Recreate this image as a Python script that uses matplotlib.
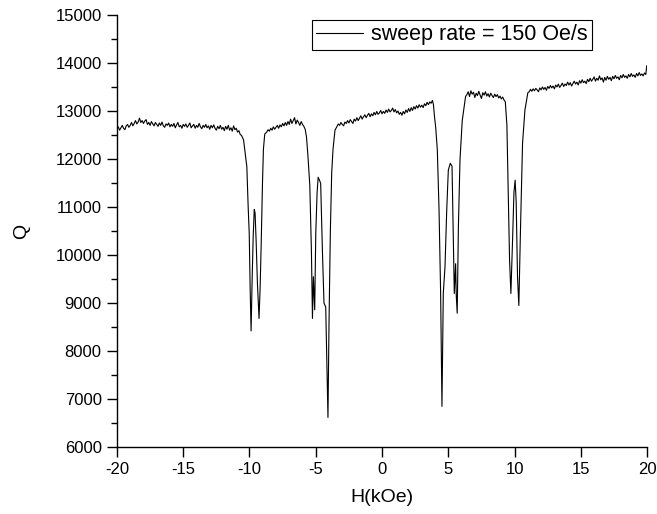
import matplotlib.pyplot as plt
plt.switch_backend('agg')
import numpy as np

plt.rcParams['font.family'] = ['Liberation Sans', 'DejaVu Sans']
plt.rcParams['axes.unicode_minus'] = False

# field sweep (kOe) and quality factor
H_a = [-20.0, -19.9, -19.8, -19.7, -19.6, -19.5, -19.4, -19.3, -19.2, -19.1,
       -19.0, -18.9, -18.8, -18.7, -18.6, -18.5, -18.4, -18.3, -18.2, -18.1,
       -18.0, -17.9, -17.8, -17.7, -17.6, -17.5, -17.4, -17.3, -17.2, -17.1,
       -17.0, -16.9, -16.8, -16.7, -16.6, -16.5, -16.4, -16.3, -16.2, -16.1,
       -16.0, -15.9, -15.8, -15.7, -15.6, -15.5, -15.4, -15.3, -15.2, -15.1,
       -15.0, -14.9, -14.8, -14.7, -14.6, -14.5, -14.4, -14.3, -14.2, -14.1,
       -14.0, -13.9, -13.8, -13.7, -13.6, -13.5, -13.4, -13.3, -13.2, -13.1,
       -13.0, -12.9, -12.8, -12.7, -12.6, -12.5, -12.4, -12.3, -12.2, -12.1,
       -12.0, -11.9, -11.8, -11.7, -11.6, -11.5, -11.4, -11.3, -11.2, -11.1,
       -11.0, -10.9, -10.8, -10.7, -10.6]
Q_a = [12620, 12670, 12600, 12650, 12700, 12640, 12610, 12690, 12720, 12660,
       12700, 12760, 12690, 12740, 12800, 12730, 12770, 12850, 12760, 12800,
       12740, 12790, 12820, 12720, 12760, 12700, 12780, 12730, 12690, 12760,
       12720, 12680, 12750, 12700, 12770, 12690, 12660, 12730, 12700, 12750,
       12670, 12720, 12680, 12740, 12650, 12710, 12760, 12670, 12700, 12640,
       12720, 12680, 12730, 12660, 12700, 12750, 12650, 12690, 12720, 12640,
       12700, 12660, 12740, 12670, 12630, 12700, 12660, 12720, 12650, 12690,
       12620, 12700, 12650, 12710, 12640, 12600, 12680, 12630, 12700, 12620,
       12660, 12590, 12680, 12620, 12700, 12600, 12650, 12580, 12690, 12610,
       12640, 12560, 12590, 12510, 12490]

H_dip1 = [-10.45, -10.35, -10.2, -10.1, -10.02, -9.95, -9.88, -9.8, -9.72, -9.64,
          -9.58, -9.5, -9.4, -9.28, -9.2, -9.12, -9.02, -8.95, -8.85]
Q_dip1 = [12400, 12180, 11840, 11000, 10450, 9300, 8420, 9500, 10400, 10950,
          10880, 10300, 9400, 8680, 9300, 10200, 11500, 12200, 12520]

H_b = [-8.7, -8.6, -8.5, -8.4, -8.3, -8.2, -8.1, -8.0, -7.9, -7.8,
       -7.7, -7.6, -7.5, -7.4, -7.3, -7.2, -7.1, -7.0, -6.9, -6.8,
       -6.7, -6.6, -6.5, -6.4, -6.3, -6.2, -6.1, -6.0, -5.9, -5.8]
Q_b = [12560, 12610, 12580, 12640, 12600, 12670, 12620, 12660, 12700, 12640,
       12710, 12670, 12740, 12690, 12760, 12700, 12780, 12720, 12830, 12740,
       12800, 12860, 12730, 12810, 12760, 12700, 12780, 12720, 12680, 12620]

H_dip2 = [-5.7, -5.6, -5.45, -5.33, -5.25, -5.18, -5.12, -5.08, -5.0, -4.9,
          -4.82, -4.72, -4.63, -4.5, -4.38, -4.25, -4.15, -4.08, -4.0, -3.9,
          -3.8, -3.7, -3.55]
Q_dip2 = [12460, 12100, 11450, 10100, 8680, 9550, 9100, 8860, 10450, 11300,
          11620, 11560, 11490, 10100, 9000, 8920, 7600, 6620, 8600, 10500,
          11700, 12200, 12600]

H_c = [-3.4, -3.3, -3.2, -3.1, -3.0, -2.9, -2.8, -2.7, -2.6, -2.5,
       -2.4, -2.3, -2.2, -2.1, -2.0, -1.9, -1.8, -1.7, -1.6, -1.5,
       -1.4, -1.3, -1.2, -1.1, -1.0, -0.9, -0.8, -0.7, -0.6, -0.5,
       -0.4, -0.3, -0.2, -0.1, 0.0, 0.1, 0.2, 0.3, 0.4, 0.5,
       0.6, 0.7, 0.8, 0.9, 1.0, 1.1, 1.2, 1.3, 1.4, 1.5,
       1.6, 1.7, 1.8, 1.9, 2.0, 2.1, 2.2, 2.3, 2.4, 2.5,
       2.6, 2.7, 2.8, 2.9, 3.0, 3.1, 3.2, 3.3, 3.4, 3.5,
       3.6, 3.7, 3.8, 3.88]
Q_c = [12680, 12730, 12700, 12760, 12720, 12690, 12770, 12740, 12800, 12750,
       12820, 12780, 12740, 12830, 12790, 12860, 12800, 12850, 12900, 12830,
       12880, 12920, 12860, 12910, 12950, 12880, 12940, 12900, 12970, 12920,
       12990, 12930, 12960, 13010, 12940, 12990, 12950, 13020, 12970, 13040,
       12980, 13010, 13060, 12980, 13030, 12960, 13000, 12930, 12970, 12910,
       12990, 12940, 13020, 12970, 13050, 12990, 13070, 13010, 13090, 13040,
       13110, 13060, 13130, 13080, 13120, 13070, 13150, 13110, 13180, 13130,
       13190, 13160, 13220, 13130]

H_dip3 = [3.95, 4.05, 4.17, 4.3, 4.42, 4.52, 4.62, 4.75, 4.88, 5.0,
          5.15, 5.28, 5.36, 5.45, 5.55, 5.6, 5.67, 5.76, 5.88, 6.05, 6.3]
Q_dip3 = [12900, 12650, 12190, 10940, 9200, 6850, 9200, 9760, 10940, 11770,
          11910, 11850, 10600, 9200, 9820, 9150, 8790, 10590, 11980, 12800, 13300]

H_d = [6.4, 6.5, 6.6, 6.7, 6.8, 6.9, 7.0, 7.1, 7.2, 7.3,
       7.4, 7.5, 7.6, 7.7, 7.8, 7.9, 8.0, 8.1, 8.2, 8.3,
       8.4, 8.5, 8.6, 8.7, 8.8, 8.9, 9.0, 9.1, 9.2, 9.3]
Q_d = [13340, 13400, 13300, 13420, 13350, 13390, 13280, 13370, 13320, 13410,
       13330, 13260, 13380, 13330, 13400, 13310, 13360, 13290, 13370, 13320,
       13280, 13350, 13300, 13340, 13270, 13310, 13250, 13290, 13230, 13190]

H_dip4 = [9.42, 9.52, 9.62, 9.72, 9.84, 9.95, 10.04, 10.12, 10.22, 10.32,
          10.45, 10.6, 10.78, 11.0]
Q_dip4 = [12700, 11300, 9900, 9200, 10250, 11300, 11560, 11100, 9550, 8950,
          10600, 12330, 13020, 13380]

H_e = [11.1, 11.2, 11.3, 11.4, 11.5, 11.6, 11.7, 11.8, 11.9, 12.0,
       12.1, 12.2, 12.3, 12.4, 12.5, 12.6, 12.7, 12.8, 12.9, 13.0,
       13.1, 13.2, 13.3, 13.4, 13.5, 13.6, 13.7, 13.8, 13.9, 14.0,
       14.1, 14.2, 14.3, 14.4, 14.5, 14.6, 14.7, 14.8, 14.9, 15.0,
       15.1, 15.2, 15.3, 15.4, 15.5, 15.6, 15.7, 15.8, 15.9, 16.0,
       16.1, 16.2, 16.3, 16.4, 16.5, 16.6, 16.7, 16.8, 16.9, 17.0,
       17.1, 17.2, 17.3, 17.4, 17.5, 17.6, 17.7, 17.8, 17.9, 18.0,
       18.1, 18.2, 18.3, 18.4, 18.5, 18.6, 18.7, 18.8, 18.9, 19.0,
       19.1, 19.2, 19.3, 19.4, 19.5, 19.6, 19.7, 19.8, 19.9, 19.97]
Q_e = [13400, 13450, 13410, 13460, 13420, 13470, 13440, 13400, 13480, 13440,
       13500, 13450, 13490, 13430, 13510, 13470, 13530, 13480, 13520, 13460,
       13540, 13500, 13560, 13490, 13530, 13580, 13510, 13560, 13530, 13600,
       13540, 13590, 13520, 13570, 13620, 13560, 13600, 13540, 13630, 13580,
       13650, 13590, 13620, 13570, 13660, 13610, 13680, 13620, 13660, 13710,
       13620, 13680, 13640, 13730, 13650, 13690, 13600, 13700, 13640, 13720,
       13660, 13700, 13630, 13720, 13670, 13740, 13680, 13710, 13650, 13740,
       13690, 13760, 13700, 13730, 13680, 13760, 13710, 13780, 13720, 13750,
       13700, 13780, 13730, 13800, 13740, 13770, 13730, 13790, 13760, 13940]

H = H_a + H_dip1 + H_b + H_dip2 + H_c + H_dip3 + H_d + H_dip4 + H_e
Q = Q_a + Q_dip1 + Q_b + Q_dip2 + Q_c + Q_dip3 + Q_d + Q_dip4 + Q_e

fig = plt.figure(figsize=(6.57, 5.14), dpi=100)
ax = fig.add_axes([0.178, 0.130, 0.807, 0.841])

ax.plot(H, Q, color='black', linewidth=0.8, label='sweep rate = 150 Oe/s')

ax.set_xlim(-20, 20)
ax.set_ylim(6000, 15000)
ax.set_xticks(np.arange(-20, 21, 5))
ax.set_yticks(np.arange(6000, 15001, 1000))
ax.set_yticks(np.arange(6500, 15000, 1000), minor=True)

ax.spines['top'].set_visible(False)
ax.spines['right'].set_visible(False)
for s in ('left', 'bottom'):
    ax.spines[s].set_linewidth(1.0)
ax.tick_params(which='major', direction='out', length=7, width=1.0, labelsize=12, pad=4)
ax.tick_params(which='minor', direction='out', length=4, width=1.0)

ax.set_xlabel('H(kOe)', fontsize=14, labelpad=8)
ax.set_ylabel('Q', fontsize=14, labelpad=18)

leg = ax.legend(loc='upper left', bbox_to_anchor=(0.368, 0.988), borderaxespad=0,
                fontsize=15.5, fancybox=False, framealpha=1, edgecolor='black',
                handlelength=2.15, borderpad=0.2, handletextpad=0.4)
leg.get_frame().set_linewidth(0.8)

plt.savefig('out.png', dpi=100)
